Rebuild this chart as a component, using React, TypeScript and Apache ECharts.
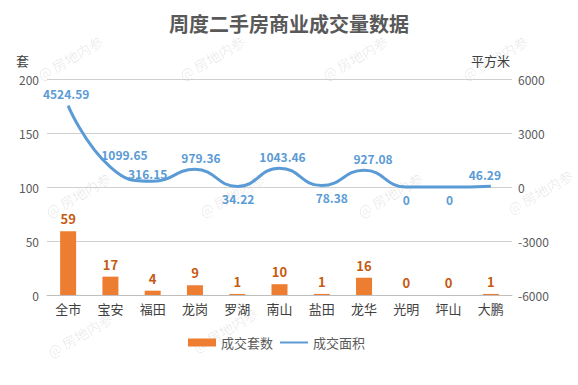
import React, { useEffect, useRef } from "react";
import * as echarts from "echarts";

const categories = ["全市", "宝安", "福田", "龙岗", "罗湖", "南山", "盐田", "龙华", "光明", "坪山", "大鹏"];
const units = [59, 17, 4, 9, 1, 10, 1, 16, 0, 0, 1];
const area = [4524.59, 1099.65, 316.15, 979.36, 34.22, 1043.46, 78.38, 927.08, 0, 0, 46.29];
const areaLabelPos = ["top", "top", "top", "top", "bottom", "top", "bottom", "top", "bottom", "bottom", "top"];
const areaLabelDx = [-2, 14, -5, 6, 1, 3, 10, 9, 0, 1, -6];
const areaLabelDy = [0, -1, 4, 0, 0, 0, 0, 0, 0, 0, 0];
const leftTicks = { min: 0, max: 200, interval: 50 };
const rightTicks = { min: -6000, max: 6000, interval: 3000 };

const FONT = "'Noto Sans CJK SC', 'Microsoft YaHei', sans-serif";

const watermarkSpots: [number, number][] = [
  [70, 58], [212, 58], [355, 58], [495, 58],
  [78, 195], [232, 195], [390, 195], [540, 192],
  [80, 335], [225, 330],
];

export default function App() {
  const ref = useRef<HTMLDivElement>(null);
  useEffect(() => {
    if (!ref.current) return;
    const chart = echarts.init(ref.current, undefined, { renderer: "svg" });
    chart.setOption({
      animation: false,
      backgroundColor: "#ffffff",
      textStyle: { fontFamily: FONT },
      title: {
        text: "周度二手房商业成交量数据",
        left: "center",
        top: 8,
        textStyle: { fontSize: 20, fontWeight: "bold", color: "#595959", fontFamily: FONT },
      },
      graphic: watermarkSpots.map(([x, y]) => ({
        type: "text",
        x,
        y,
        rotation: Math.PI / 6,
        silent: true,
        z: -1,
        style: {
          text: "@ 房地内参",
          fill: "rgba(0,0,0,0.09)",
          font: `14px ${FONT}`,
          align: "center",
          verticalAlign: "middle",
        },
      })),
      legend: {
        left: 183,
        top: 331,
        itemGap: 6,
        itemWidth: 28,
        itemHeight: 8,
        textStyle: { fontSize: 13, color: "#595959", fontFamily: FONT },
        data: [
          { name: "成交套数", icon: "rect" },
          { name: "成交面积", itemStyle: { opacity: 0 } },
        ],
      },
      grid: { left: 47, right: 66, top: 79, bottom: 90 },
      xAxis: {
        type: "category",
        data: categories,
        axisLine: { lineStyle: { color: "#BFBFBF" } },
        axisTick: { show: false },
        axisLabel: { color: "#404040", fontSize: 13, margin: 7, fontFamily: FONT },
      },
      yAxis: [
        {
          type: "value",
          name: "套",
          nameLocation: "end",
          nameGap: 12,
          nameTextStyle: { color: "#404040", fontSize: 13, align: "right", padding: [0, 18, 0, 0] },
          min: leftTicks.min,
          max: leftTicks.max,
          interval: leftTicks.interval,
          axisLine: { show: false },
          axisTick: { show: false },
          axisLabel: { color: "#595959", fontSize: 12, margin: 8 },
          splitLine: { lineStyle: { color: "#D0D0D0" } },
        },
        {
          type: "value",
          name: "平方米",
          nameLocation: "end",
          nameGap: 12,
          nameTextStyle: { color: "#404040", fontSize: 13, align: "right", padding: [0, 2, 0, 0] },
          min: rightTicks.min,
          max: rightTicks.max,
          interval: rightTicks.interval,
          axisLine: { show: false },
          axisTick: { show: false },
          axisLabel: { color: "#595959", fontSize: 12, margin: 6, formatter: (v: number) => String(v) },
          splitLine: { show: false },
        },
      ],
      series: [
        {
          name: "成交套数",
          type: "bar",
          yAxisIndex: 0,
          data: units,
          barWidth: 16,
          itemStyle: { color: "#ED7D31" },
          label: {
            show: true,
            position: "top",
            distance: 6,
            color: "#C55A11",
            fontSize: 13,
            fontWeight: "bold",
          },
        },
        {
          name: "成交面积",
          type: "line",
          yAxisIndex: 1,
          smooth: 0.5,
          symbol: "circle",
          symbolSize: 0.01,
          showSymbol: true,
          lineStyle: { color: "#5B9BD5", width: 3 },
          itemStyle: { color: "#5B9BD5" },
          label: { show: true, color: "#5B9BD5", fontSize: 12, fontWeight: "bold" },
          data: area.map((v, i) => ({
            value: v,
            label: {
              show: true,
              position: areaLabelPos[i],
              offset: [areaLabelDx[i], areaLabelDy[i]],
              distance: 6,
              color: "#5B9BD5",
              fontSize: 12,
              fontWeight: "bold",
            },
          })),
        },
      ],
    });
    return () => chart.dispose();
  }, []);
  return <div ref={ref} style={{ width: 578, height: 385, position: "absolute", left: 0, top: 0 }} />;
}
